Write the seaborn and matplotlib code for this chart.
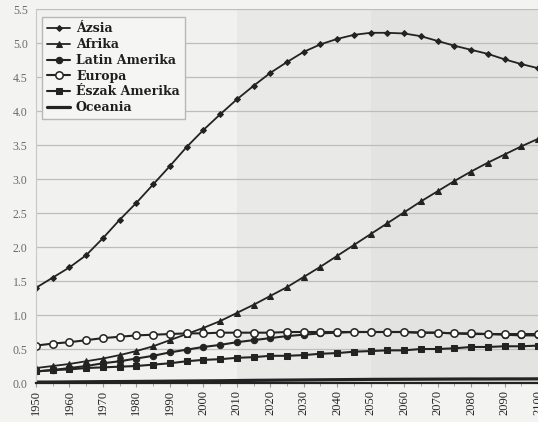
import numpy as np
import pandas as pd
import seaborn as sns
import matplotlib.pyplot as plt
from matplotlib.ticker import MultipleLocator

# --- adatok (milliárd fő), 5 évenként ---
years = list(range(1950, 2101, 5))
asia = [1.40, 1.55, 1.70, 1.88, 2.13, 2.40, 2.65, 2.92, 3.19, 3.47, 3.72,
        3.95, 4.17, 4.37, 4.56, 4.72, 4.87, 4.98, 5.06, 5.12, 5.15,
        5.15, 5.14, 5.10, 5.03, 4.96, 4.90, 4.84, 4.76, 4.69, 4.63]
africa = [0.22, 0.25, 0.28, 0.32, 0.36, 0.41, 0.47, 0.54, 0.63, 0.72, 0.81,
          0.91, 1.03, 1.15, 1.28, 1.41, 1.56, 1.71, 1.87, 2.03, 2.19,
          2.35, 2.51, 2.67, 2.82, 2.97, 3.11, 3.24, 3.36, 3.48, 3.59]
latam = [0.17, 0.19, 0.22, 0.25, 0.29, 0.32, 0.36, 0.40, 0.45, 0.49, 0.53,
         0.56, 0.60, 0.63, 0.66, 0.69, 0.71, 0.73, 0.74, 0.75, 0.75,
         0.75, 0.75, 0.74, 0.74, 0.73, 0.72, 0.72, 0.71, 0.70, 0.70]
europe = [0.55, 0.58, 0.60, 0.63, 0.66, 0.68, 0.70, 0.71, 0.72, 0.73, 0.73,
          0.74, 0.74, 0.74, 0.74, 0.75, 0.75, 0.75, 0.75, 0.75, 0.75,
          0.75, 0.75, 0.74, 0.74, 0.73, 0.73, 0.72, 0.72, 0.72, 0.72]
namerica = [0.17, 0.19, 0.20, 0.22, 0.23, 0.24, 0.25, 0.27, 0.29, 0.32, 0.34,
            0.35, 0.37, 0.38, 0.40, 0.40, 0.41, 0.43, 0.44, 0.46, 0.47,
            0.48, 0.48, 0.50, 0.50, 0.51, 0.53, 0.53, 0.54, 0.54, 0.55]
oceania = [0.013, 0.014, 0.016, 0.018, 0.020, 0.021, 0.023, 0.025, 0.027, 0.029, 0.031,
           0.033, 0.036, 0.039, 0.041, 0.043, 0.045, 0.047, 0.049, 0.051, 0.053,
           0.054, 0.055, 0.056, 0.057, 0.058, 0.059, 0.059, 0.060, 0.060, 0.061]

labels = ['Ázsia', 'Afrika', 'Latin Amerika', 'Europa', 'Észak Amerika', 'Oceania']
series = [asia, africa, latam, europe, namerica, oceania]

sns.set_style('white')
plt.rcParams['font.family'] = ['Liberation Serif', 'DejaVu Serif']

fig = plt.figure(figsize=(5.38, 4.22), dpi=100, facecolor='#f3f3f1')
ax = fig.add_axes([36 / 538, 39 / 422, 502 / 538, 374 / 422])
ax.set_facecolor('#f1f1ef')

# szkennelt háttér sávjai
ax.axvspan(2010, 2050, color='#e9e9e7', zorder=0, lw=0)
ax.axvspan(2050, 2101, color='#e3e3e1', zorder=0, lw=0)

ink = '#232323'
styles = [
    dict(marker='D', markersize=3.0, markerfacecolor=ink, markeredgecolor=ink),
    dict(marker='^', markersize=4.3, markerfacecolor=ink, markeredgecolor=ink),
    dict(marker='o', markersize=4.6, markerfacecolor=ink, markeredgecolor=ink),
    dict(marker='o', markersize=5.3, markerfacecolor='white', markeredgecolor=ink, markeredgewidth=1.1),
    dict(marker='s', markersize=4.4, markerfacecolor=ink, markeredgecolor=ink),
    dict(marker=None),
]
widths = [1.3, 1.3, 1.5, 1.5, 1.5, 2.3]

for lab, vals, st, lw in zip(labels, series, styles, widths):
    sns.lineplot(x=years, y=vals, ax=ax, color=ink, lw=lw, label=lab, **st)

ax.set_xlim(1950, 2100)
ax.set_ylim(0, 5.5)
ax.yaxis.set_major_locator(MultipleLocator(0.5))
ax.xaxis.set_major_locator(MultipleLocator(10))
ax.xaxis.set_minor_locator(MultipleLocator(5))
ax.set_yticklabels([f'{v:.1f}' for v in ax.get_yticks()])
ax.grid(axis='y', color='#bdbdbb', lw=0.9)
ax.set_axisbelow(True)
for s in ['top', 'right']:
    ax.spines[s].set_visible(False)
ax.spines['left'].set_color('#c8c8c6')
ax.spines['bottom'].set_color(ink)
ax.spines['bottom'].set_linewidth(1.6)

ax.tick_params(axis='x', which='major', rotation=90, labelsize=9, labelcolor='#262626',
               length=3, color='#999999', bottom=True, pad=2)
ax.tick_params(axis='x', which='minor', length=2, color='#999999', bottom=True)
ax.tick_params(axis='y', labelsize=8.5, labelcolor='#6a6a6a', length=0, pad=6)
ax.set_xlabel('')
ax.set_ylabel('')

leg = ax.legend(loc='upper left', bbox_to_anchor=(0.0, 0.994), frameon=True,
                fancybox=False, edgecolor='#b8b8b6', facecolor='#f5f5f3', framealpha=1,
                prop={'family': 'DejaVu Serif', 'size': 9, 'weight': 'bold'},
                handlelength=1.8, labelspacing=0.22, borderpad=0.4, handletextpad=0.5)
for t in leg.get_texts():
    t.set_color('#1e1e1e')

fig.savefig('out.png', dpi=100, facecolor=fig.get_facecolor())
